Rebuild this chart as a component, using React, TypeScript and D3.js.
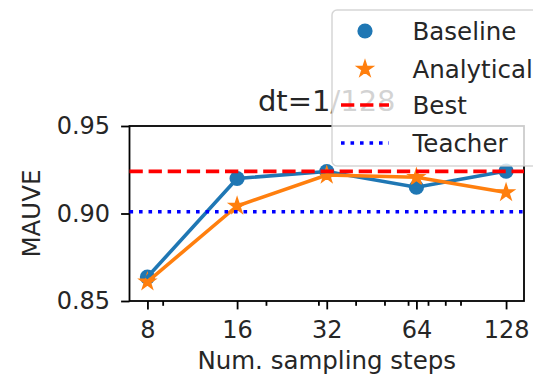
import React, { useEffect, useRef } from 'react';
import * as d3 from 'd3';

const steps = [8, 16, 32, 64, 128];
const minorSteps = [9, 20, 30, 40, 50, 60, 70, 80, 90];
const baseline = [0.8637, 0.92, 0.924, 0.915, 0.9242];
const analytical = [0.861, 0.9043, 0.922, 0.9207, 0.912];
const bestValue = 0.9241;
const teacherValue = 0.901;
const yTicks = [0.85, 0.9, 0.95];

const BLUE = '#1f77b4';
const ORANGE = '#ff7f0e';
const FONT = 'DejaVu Sans, sans-serif';

const App: React.FC = () => {
  const chartRef = useRef<SVGSVGElement | null>(null);

  useEffect(() => {
    renderChart();
  }, []);

  const renderChart = () => {
    const width = 533;
    const height = 377;
    const left = 129.5, right = 524, top = 126, bottom = 301;

    const svg = d3.select(chartRef.current);
    svg.selectAll('*').remove();
    svg.attr('width', width).attr('height', height);

    const x = d3.scaleLog().base(2)
      .domain([Math.pow(2, 2.8), Math.pow(2, 7.2)])
      .range([left, right]);
    const y = d3.scaleLinear()
      .domain([0.85, 0.95])
      .range([bottom, top]);

    svg.append('rect')
      .attr('width', width).attr('height', height).attr('fill', '#fff');

    // x axis major
    const xAxis = svg.append('g')
      .attr('transform', `translate(0,${bottom})`)
      .call(d3.axisBottom(x).tickValues(steps).tickFormat(d => String(d))
        .tickSize(8.4).tickSizeOuter(0).tickPadding(11.5));
    // x axis minor
    const xMinor = svg.append('g')
      .attr('transform', `translate(0,${bottom})`)
      .call(d3.axisBottom(x).tickValues(minorSteps).tickFormat(() => '')
        .tickSize(4.8).tickSizeOuter(0));
    const yAxis = svg.append('g')
      .attr('transform', `translate(${left},0)`)
      .call(d3.axisLeft(y).tickValues(yTicks).tickFormat(d3.format('.2f'))
        .tickSize(8.4).tickSizeOuter(0).tickPadding(11));

    [xAxis, xMinor, yAxis].forEach(a => {
      a.select('.domain').remove();
      a.selectAll('line').attr('stroke', '#000').attr('stroke-width', 1.8);
      a.selectAll('text')
        .style('font-family', FONT)
        .style('font-size', '24px')
        .attr('fill', '#262626');
    });

    // spines
    svg.append('rect')
      .attr('x', left).attr('y', top)
      .attr('width', right - left).attr('height', bottom - top)
      .attr('fill', 'none').attr('stroke', '#000').attr('stroke-width', 1.8);

    // axis labels
    svg.append('text')
      .attr('x', (left + right) / 2)
      .attr('y', 369)
      .attr('text-anchor', 'middle')
      .style('font-family', FONT)
      .style('font-size', '24.5px')
      .attr('fill', '#262626')
      .text('Num. sampling steps');

    svg.append('text')
      .attr('transform', `translate(40,${(top + bottom) / 2}) rotate(-90)`)
      .attr('text-anchor', 'middle')
      .style('font-family', FONT)
      .style('font-size', '24.5px')
      .attr('fill', '#262626')
      .text('MAUVE');

    // title
    svg.append('text')
      .attr('x', (left + right) / 2)
      .attr('y', 111)
      .attr('text-anchor', 'middle')
      .style('font-family', FONT)
      .style('font-size', '29px')
      .attr('fill', '#262626')
      .text('dt=1/128');

    const plot = svg.append('g');
    const star = d3.symbol().type(d3.symbolStar).size(78);

    // scatter markers (below lines)
    plot.selectAll('.dot-base')
      .data(steps)
      .enter().append('circle')
      .attr('cx', d => x(d))
      .attr('cy', (d, i) => y(baseline[i]))
      .attr('r', 7.6)
      .attr('fill', BLUE);

    plot.selectAll('.dot-ana')
      .data(steps)
      .enter().append('path')
      .attr('d', star)
      .attr('transform', (d, i) => `translate(${x(d)},${y(analytical[i])})`)
      .attr('fill', ORANGE)
      .attr('stroke', ORANGE)
      .attr('stroke-width', 1.5)
      .attr('stroke-linejoin', 'miter');

    const line = (vals: number[]) => d3.line<number>()
      .x(d => x(d))
      .y((d, i) => y(vals[i]))(steps);

    plot.append('path')
      .attr('d', line(baseline))
      .attr('fill', 'none').attr('stroke', BLUE).attr('stroke-width', 3.6)
      .attr('stroke-linecap', 'square');
    plot.append('path')
      .attr('d', line(analytical))
      .attr('fill', 'none').attr('stroke', ORANGE).attr('stroke-width', 3.6)
      .attr('stroke-linecap', 'square');

    plot.append('line')
      .attr('x1', left).attr('x2', right)
      .attr('y1', y(bestValue)).attr('y2', y(bestValue))
      .attr('stroke', '#ff0000').attr('stroke-width', 3.6)
      .attr('stroke-dasharray', '13.3,5.8');
    plot.append('line')
      .attr('x1', left).attr('x2', right)
      .attr('y1', y(teacherValue)).attr('y2', y(teacherValue))
      .attr('stroke', '#0000ff').attr('stroke-width', 3.6)
      .attr('stroke-dasharray', '3.6,5.9');

    // legend
    const lg = svg.append('g');
    lg.append('rect')
      .attr('x', 332).attr('y', 10)
      .attr('width', 230).attr('height', 156)
      .attr('rx', 5)
      .attr('fill', '#fff').attr('fill-opacity', 0.8)
      .attr('stroke', '#ccc').attr('stroke-opacity', 0.8).attr('stroke-width', 1.5);

    const items = [
      { label: 'Baseline', kind: 'circle', cy: 31 },
      { label: 'Analytical', kind: 'star', cy: 69 },
      { label: 'Best', kind: 'dash', cy: 105 },
      { label: 'Teacher', kind: 'dot', cy: 143 },
    ];
    items.forEach(it => {
      if (it.kind === 'circle') {
        lg.append('circle').attr('cx', 365).attr('cy', it.cy).attr('r', 7.6).attr('fill', BLUE);
      } else if (it.kind === 'star') {
        lg.append('path').attr('d', star)
          .attr('transform', `translate(365,${it.cy})`)
          .attr('fill', ORANGE).attr('stroke', ORANGE).attr('stroke-width', 1.5);
      } else {
        lg.append('line')
          .attr('x1', 341).attr('x2', 389)
          .attr('y1', it.cy).attr('y2', it.cy)
          .attr('stroke', it.kind === 'dash' ? '#ff0000' : '#0000ff')
          .attr('stroke-width', 3.6)
          .attr('stroke-dasharray', it.kind === 'dash' ? '13.3,5.8' : '3.6,5.9');
      }
      lg.append('text')
        .attr('x', 412.5)
        .attr('y', it.cy)
        .attr('dy', '0.36em')
        .style('font-family', FONT)
        .style('font-size', '24.5px')
        .attr('fill', '#262626')
        .text(it.label);
    });
  };

  return (
    <div>
      <svg ref={chartRef} style={{ position: 'absolute', left: 0, top: 0 }}></svg>
    </div>
  );
};

export default App;
